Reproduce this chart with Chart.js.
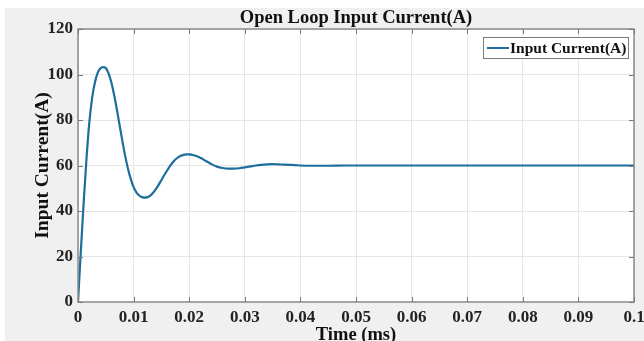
<!DOCTYPE html>
<html>
<head>
<meta charset="utf-8">
<script src="https://cdn.jsdelivr.net/npm/chart.js@4/dist/chart.umd.min.js"></script>
<style>
html,body{margin:0;padding:0;background:#ffffff;}
#wrap{position:absolute;left:0;top:0;width:644px;height:341px;}
</style>
</head>
<body>
<div id="wrap"><canvas id="c" width="644" height="341"></canvas></div>
<script>
// ---- data ----
const timeMs = [0,0.0005,0.001,0.0015,0.002,0.0025,0.003,0.0035,0.004,0.0045,0.005,0.0055,0.006,0.0065,0.007,0.0075,0.008,0.0085,0.009,0.0095,0.010,0.0105,0.011,0.0115,0.012,0.0125,0.013,0.0135,0.014,0.0145,0.015,0.0155,0.016,0.0165,0.017,0.0175,0.018,0.0185,0.019,0.0195,0.020,0.0205,0.021,0.022,0.023,0.024,0.025,0.026,0.027,0.028,0.029,0.030,0.031,0.032,0.033,0.034,0.035,0.036,0.037,0.038,0.039,0.040,0.042,0.045,0.048,0.050,0.055,0.060,0.065,0.070,0.075,0.080,0.085,0.090,0.095,0.100];
const inputCurrent = [0,22,43,62,78,89,96,100.5,102.6,103.2,102.8,100.5,96.5,91,84.5,77.5,70.5,64,58.5,54,50.5,48.2,46.8,46.1,45.9,46.1,46.8,48,49.6,51.5,53.6,55.7,57.7,59.6,61.2,62.6,63.6,64.3,64.7,64.9,64.9,64.7,64.4,63.4,62.0,60.6,59.5,58.9,58.6,58.6,58.8,59.2,59.6,60.0,60.3,60.5,60.6,60.5,60.4,60.3,60.2,60.0,59.9,59.9,60.0,60.0,60.0,60.0,60.0,60.0,60.0,60.0,60.0,60.0,60.0,60.0];
const xTickValues = [0,0.01,0.02,0.03,0.04,0.05,0.06,0.07,0.08,0.09,0.1];
const xTickLabels = ['0','0.01','0.02','0.03','0.04','0.05','0.06','0.07','0.08','0.09','0.1'];
const yTickValues = [0,20,40,60,80,100,120];
const yTickLabels = ['0','20','40','60','80','100','120'];
const seriesName = 'Input Current(A)';
const chartTitle = 'Open Loop Input Current(A)';
const xTitle = 'Time (ms)';
const yTitle = 'Input Current(A)';

const LINE = '#1c6e9c';
const SERIF = "'Liberation Serif', 'DejaVu Serif', serif";

const bgPlugin = {
  id: 'bg',
  beforeDraw(chart) {
    const ctx = chart.ctx, a = chart.chartArea;
    ctx.save();
    ctx.fillStyle = '#ffffff';
    ctx.fillRect(0, 0, chart.width, chart.height);
    ctx.fillStyle = '#f0f0f0';
    ctx.fillRect(5, 8, chart.width - 5, chart.height - 8);
    ctx.fillStyle = '#ffffff';
    ctx.fillRect(a.left, a.top, a.right - a.left, a.bottom - a.top);
    ctx.restore();
  }
};

const boxPlugin = {
  id: 'box',
  afterDatasetsDraw(chart) {
    const ctx = chart.ctx, a = chart.chartArea;
    const xs = chart.scales.x, ys = chart.scales.y;
    ctx.save();
    ctx.strokeStyle = '#8a8a8a';
    ctx.lineWidth = 1.5;
    ctx.strokeRect(a.left, a.top, a.right - a.left, a.bottom - a.top);
    ctx.lineWidth = 1;
    ctx.strokeStyle = '#7a7a7a';
    ctx.beginPath();
    xTickValues.forEach(v => {
      const px = Math.round(xs.getPixelForValue(v)) + 0.5;
      ctx.moveTo(px, a.bottom); ctx.lineTo(px, a.bottom - 5);
      ctx.moveTo(px, a.top); ctx.lineTo(px, a.top + 5);
    });
    yTickValues.forEach(v => {
      const py = Math.round(ys.getPixelForValue(v)) + 0.5;
      ctx.moveTo(a.left, py); ctx.lineTo(a.left + 5, py);
      ctx.moveTo(a.right, py); ctx.lineTo(a.right - 5, py);
    });
    ctx.stroke();
    // title
    ctx.fillStyle = '#111111';
    ctx.font = 'bold 18.5px ' + SERIF;
    ctx.textAlign = 'center';
    ctx.textBaseline = 'middle';
    ctx.fillText(chartTitle, (a.left + a.right) / 2, 18);
    // legend
    const lx = 483, ly = 37, lw = 145, lh = 21;
    ctx.fillStyle = '#ffffff';
    ctx.fillRect(lx, ly, lw, lh);
    ctx.strokeStyle = '#7a7a7a';
    ctx.lineWidth = 1;
    ctx.strokeRect(lx + 0.5, ly + 0.5, lw, lh);
    ctx.strokeStyle = chart.data.datasets[0].borderColor;
    ctx.lineWidth = 2;
    ctx.beginPath();
    ctx.moveTo(lx + 4, ly + lh / 2 + 0.5);
    ctx.lineTo(lx + 26, ly + lh / 2 + 0.5);
    ctx.stroke();
    ctx.fillStyle = '#111111';
    ctx.font = 'bold 15.5px ' + SERIF;
    ctx.textBaseline = 'middle';
    ctx.textAlign = 'left';
    ctx.fillText(chart.data.datasets[0].label, lx + 27, ly + lh / 2 + 1);
    ctx.restore();
  }
};

new Chart(document.getElementById('c'), {
  type: 'line',
  data: {
    datasets: [{
      label: seriesName,
      data: timeMs.map((t, i) => ({x: t, y: inputCurrent[i]})),
      borderColor: LINE,
      borderWidth: 2.2,
      pointRadius: 0,
      tension: 0.4,
      cubicInterpolationMode: 'monotone',
      fill: false
    }]
  },
  plugins: [bgPlugin, boxPlugin],
  options: {
    responsive: false,
    animation: false,
    devicePixelRatio: 1,
    layout: {padding: {left: 0, right: 0, top: 29, bottom: 0}},
    plugins: {
      legend: {display: false},
      tooltip: {enabled: false},
      title: {display: false}
    },
    scales: {
      x: {
        type: 'linear',
        min: 0, max: 0.1,
        afterBuildTicks(s) { s.ticks = xTickValues.map(v => ({value: v})); },
        afterFit(s) { s.height = 39; s.paddingRight = 10; },
        grid: {color: '#e6e6e6', lineWidth: 1, drawTicks: false},
        border: {display: false},
        ticks: {
          color: '#222222',
          font: {family: SERIF, size: 17, weight: 'bold', lineHeight: 1.2},
          padding: 5,
          maxRotation: 0,
          autoSkip: false,
          callback: (v, i) => xTickLabels[i]
        },
        title: {
          display: true,
          text: xTitle,
          color: '#111111',
          font: {family: SERIF, size: 18.5, weight: 'bold', lineHeight: 1.2},
          padding: {top: 0, bottom: -5}
        }
      },
      y: {
        type: 'linear',
        min: 0, max: 120,
        afterBuildTicks(s) { s.ticks = yTickValues.map(v => ({value: v})); },
        afterFit(s) { s.width = 78; s.paddingTop = 0; },
        grid: {color: '#e6e6e6', lineWidth: 1, drawTicks: false},
        border: {display: false},
        ticks: {
          color: '#222222',
          font: {family: SERIF, size: 17, weight: 'bold', lineHeight: 1.2},
          padding: 5,
          autoSkip: false,
          callback: (v, i) => yTickLabels[i]
        },
        title: {
          display: true,
          text: yTitle,
          color: '#111111',
          font: {family: SERIF, size: 19.5, weight: 'bold', lineHeight: 1.2},
          padding: {top: 31, bottom: 0}
        }
      }
    }
  }
});
</script>
</body>
</html>
